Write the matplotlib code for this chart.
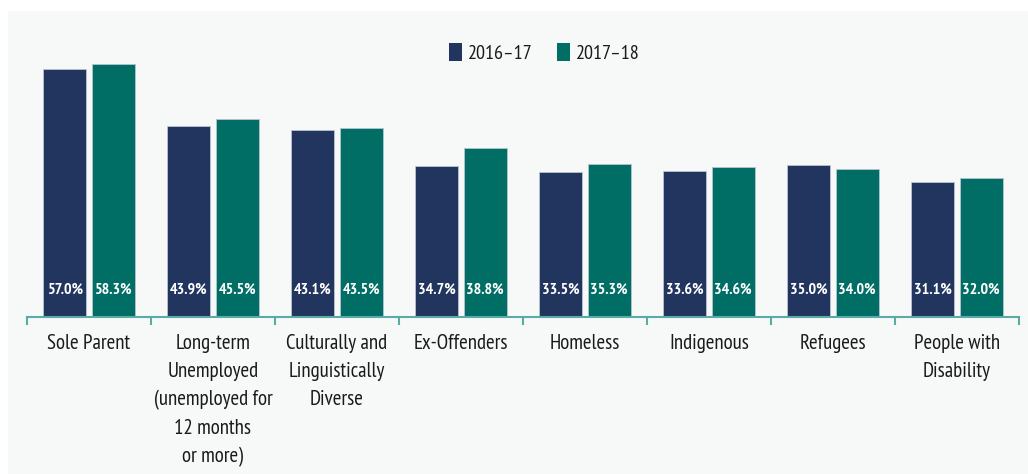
import matplotlib
matplotlib.use("Agg")
import matplotlib.pyplot as plt
from matplotlib import font_manager
from matplotlib.patches import Rectangle, Patch
import numpy as np

# -------------------------------
# DATA
# -------------------------------
categories = [
    "Sole Parent",
    "Long-term\nUnemployed\n(unemployed for\n12 months\nor more)",
    "Culturally and\nLinguistically\nDiverse",
    "Ex-Offenders",
    "Homeless",
    "Indigenous",
    "Refugees",
    "People with\nDisability",
]
values_2016_17 = [57.0, 43.9, 43.1, 34.7, 33.5, 33.6, 35.0, 31.1]
values_2017_18 = [58.3, 45.5, 43.5, 38.8, 35.3, 34.6, 34.0, 32.0]
series_names = ["2016\u201317", "2017\u201318"]

navy = "#22355f"
teal = "#006e64"
axis_col = "#5aaaa6"

# pick a narrow font if there is one
names = {f.name for f in font_manager.fontManager.ttflist}
fam = "DejaVu Sans"
for cand in ["PT Sans Narrow", "Open Sans Condensed", "Roboto Condensed",
             "Archivo Narrow", "Asap Condensed", "Liberation Sans Narrow"]:
    if cand in names:
        fam = cand
        break
plt.rcParams["font.family"] = [fam, "DejaVu Sans"]

# -------------------------------
# FIGURE
# -------------------------------
fig = plt.figure(figsize=(10.28, 4.74), dpi=100, facecolor="white")
fig.add_artist(Rectangle((8 / 1028, 0), 1 - 8 / 1028, 1 - 11 / 474,
                         transform=fig.transFigure, facecolor="#f7f9f9",
                         edgecolor="none", zorder=-10))

ax = fig.add_axes([27 / 1028, 1 - 317 / 474, 992 / 1028, 304 / 474])
ax.set_facecolor("none")

x = np.arange(len(categories))
w = 0.345
off = 0.195
ax.bar(x - off, values_2016_17, w, color=navy, edgecolor="#b9c3cf", linewidth=0.6)
ax.bar(x + off, values_2017_18, w, color=teal, edgecolor="#b9c3cf", linewidth=0.6)

for i in range(len(categories)):
    ax.text(x[i] - off, 6.2, f"{values_2016_17[i]:.1f}%", ha="center", va="center",
            color="white", fontsize=11.5, fontweight="bold")
    ax.text(x[i] + off, 6.2, f"{values_2017_18[i]:.1f}%", ha="center", va="center",
            color="white", fontsize=11.5, fontweight="bold")

ax.set_xlim(-0.5, len(categories) - 0.5)
ax.set_ylim(0, 70)

for s in ["top", "right", "left"]:
    ax.spines[s].set_visible(False)
ax.spines["bottom"].set_color(axis_col)
ax.spines["bottom"].set_linewidth(1.5)
ax.set_yticks([])

ax.set_xticks(x)
ax.set_xticklabels(categories, fontsize=15, color="#1a1a1a", linespacing=1.6,
                   va="top", multialignment="center")
ax.tick_params(axis="x", which="major", length=0, pad=12)
ax.set_xticks(np.arange(-0.5, len(categories)), minor=True)
ax.tick_params(axis="x", which="minor", length=5.5, width=1.5, color=axis_col)

handles = [Patch(facecolor=navy), Patch(facecolor=teal)]
fig.legend(handles, series_names, loc="center", bbox_to_anchor=(544 / 1028, 1 - 53 / 474),
           ncol=2, frameon=False, fontsize=14.5, handlelength=0.65, handleheight=0.95,
           handletextpad=0.3, columnspacing=1.2, labelcolor="#1a1a1a")

fig.savefig("out.png", dpi=100, facecolor="white")
